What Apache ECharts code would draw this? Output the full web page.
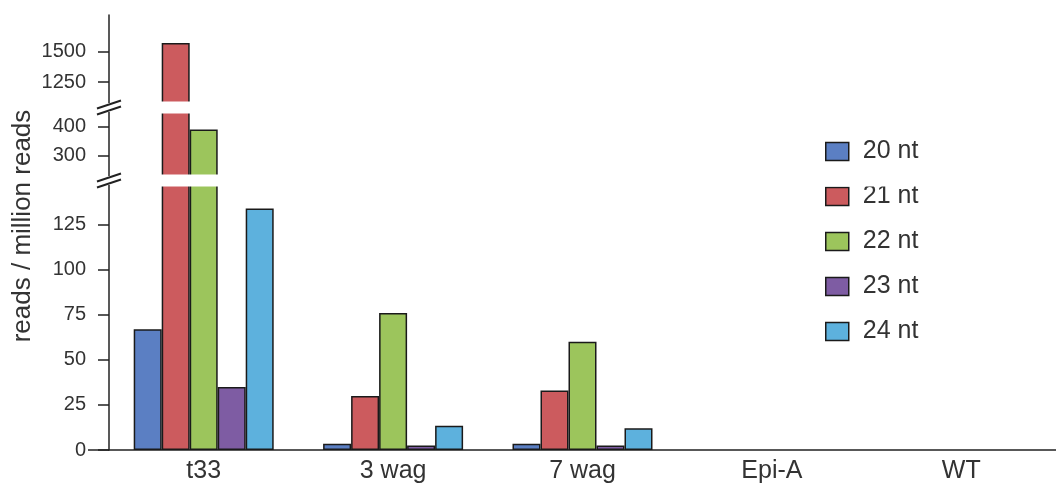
<!DOCTYPE html>
<html>
<head>
<meta charset="utf-8">
<script src="https://cdn.jsdelivr.net/npm/echarts@6/dist/echarts.min.js"></script>
<style>html,body{margin:0;padding:0;background:#fff}#c{width:1056px;height:486px}</style>
</head>
<body>
<div id="c"></div>
<script>
const categories = ['t33', '3 wag', '7 wag', 'Epi-A', 'WT'];
const seriesNames = ['20 nt', '21 nt', '22 nt', '23 nt', '24 nt'];
const nt20 = [67, 3.5, 3.5, 0, 0];
const nt21 = [1570, 30, 33, 0, 0];
const nt22 = [390, 76, 60, 0, 0];
const nt23 = [35, 2.5, 2.5, 0, 0];
const nt24 = [134, 13.5, 12, 0, 0];
const colors = ['#5b7fc3', '#cc5b5e', '#9cc55c', '#7e5ca3', '#5db1dd'];
// axis segments (broken axis)
const topTicks = [1250, 1500];
const midTicks = [300, 400];
const lowTicks = [0, 25, 50, 75, 100, 125];
const topRange = [1080, 1800];
const midRange = [231, 450];
const lowRange = [0, 147];

const values = [nt20, nt21, nt22, nt23, nt24];
const FONT = 'Liberation Sans, Arial, sans-serif';
const LEFT = 109, WIDTH = 950;
const grids = [
  {left: LEFT, width: WIDTH, top: 15, height: 88},
  {left: LEFT, width: WIDTH, top: 112, height: 64},
  {left: LEFT, width: WIDTH, top: 185, height: 265}
];
const ranges = [topRange, midRange, lowRange];
const ticks = [topTicks, midTicks, lowTicks];

const xAxes = grids.map((g, i) => ({
  type: 'category', gridIndex: i, data: categories,
  show: i === 2,
  axisLine: {show: i === 2, lineStyle: {color: '#222', width: 1.5}},
  axisTick: {show: false},
  axisLabel: {show: i === 2, fontSize: 25, color: '#333', fontFamily: FONT, margin: 9}
}));
const yAxes = grids.map((g, i) => ({
  type: 'value', gridIndex: i, min: ranges[i][0], max: ranges[i][1],
  splitLine: {show: false},
  axisLine: {show: true, lineStyle: {color: '#222', width: 1.5}},
  axisTick: {show: true, length: 11, inside: false, lineStyle: {color: '#222', width: 1.5}, customValues: ticks[i]},
  axisLabel: {fontSize: 20, color: '#333', fontFamily: FONT, margin: 23, customValues: ticks[i],
    formatter: v => String(v)}
}));

const series = [];
grids.forEach((g, gi) => {
  seriesNames.forEach((name, si) => {
    series.push({
      type: 'bar', name: name, xAxisIndex: gi, yAxisIndex: gi,
      data: values[si].map(v => v === 0 ? {value: 0, itemStyle: {borderWidth: 0}} : v),
      barWidth: 28, barGap: '0%', clip: true,
      itemStyle: {color: colors[si], borderColor: '#1a1a1a', borderWidth: 1.5},
      emphasis: {disabled: true}, animation: false
    });
  });
});

const chart = echarts.init(document.getElementById('c'));
const graphic = [];
// white gaps between segments (hide clipped edges)
for (let k = 0; k < 2; k++) {
  const y0 = grids[k].top + grids[k].height - 1.5;
  const y1 = grids[k + 1].top + 1.5;
  graphic.push({type: 'rect', z: 100, shape: {x: LEFT + 1, y: y0, width: 1056, height: y1 - y0}, style: {fill: '#fff'}});
  const yc = (grids[k].top + grids[k].height + grids[k + 1].top) / 2;
  graphic.push({type: 'rect', z: 101, shape: {x: LEFT - 2, y: yc - 4.5, width: 4, height: 9}, style: {fill: '#fff'}});
  [-3, 3].forEach(d => {
    graphic.push({type: 'line', z: 102, shape: {x1: LEFT - 12, y1: yc + d + 4, x2: LEFT + 12, y2: yc + d - 4}, style: {stroke: '#222', lineWidth: 2}});
  });
}
// baseline extension left of axis
const baseY = grids[2].top + grids[2].height;
graphic.push({type: 'line', z: 102, shape: {x1: LEFT - 21, y1: baseY, x2: LEFT, y2: baseY}, style: {stroke: '#222', lineWidth: 1.5}});
// y axis title
graphic.push({type: 'text', z: 102, x: 23, y: 226, rotation: Math.PI / 2,
  style: {text: 'reads / million reads', fontSize: 26, fontFamily: FONT, fill: '#333', textAlign: 'center', textVerticalAlign: 'middle'}});

chart.setOption({
  animation: false,
  backgroundColor: '#fff',
  grid: grids,
  xAxis: xAxes,
  yAxis: yAxes,
  legend: {
    orient: 'vertical', left: 820, top: 134, itemWidth: 23, itemHeight: 18, itemGap: 20,
    data: seriesNames,
    itemStyle: {borderColor: '#1a1a1a', borderWidth: 1.5},
    textStyle: {fontSize: 25, color: '#333', fontFamily: FONT, padding: [0, 0, 0, 9]},
    icon: 'rect', selectedMode: false
  },
  graphic: graphic,
  series: series
});
</script>
</body>
</html>
